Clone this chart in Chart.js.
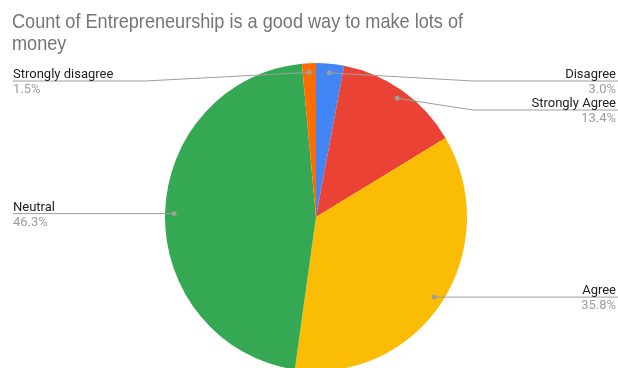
<!DOCTYPE html>
<html>
<head>
<meta charset="utf-8">
<script src="https://cdn.jsdelivr.net/npm/chart.js@4/dist/chart.umd.min.js"></script>
<style>
  html, body { margin: 0; padding: 0; background: #fff; }
  #wrap { width: 618px; height: 368px; }
</style>
</head>
<body>
<div id="wrap"><canvas id="pie" width="618" height="368"></canvas></div>
<script>
const titleLines = ['Count of Entrepreneurship is a good way to make lots of', 'money']
const categories = ['Disagree', 'Strongly Agree', 'Agree', 'Neutral', 'Strongly disagree']
const counts = [2, 9, 24, 31, 1]
const colors = ['#4285f4', '#ea4335', '#fbbc04', '#34a853', '#ff6d01']

const total = counts.reduce((a, b) => a + b, 0)
const stretchY = 1.02   // pie is drawn slightly taller than wide

// squash the pie vertically around its centre
const stretchPlugin = {
      id: 'stretch',
      beforeDatasetsDraw(chart) {
            const a = chart.chartArea
            const cx = (a.left + a.right) / 2
            const cy = (a.top + a.bottom) / 2
            chart.ctx.save()
            chart.ctx.translate(cx, cy)
            chart.ctx.scale(1, stretchY)
            chart.ctx.translate(-cx, -cy)
      },
      afterDatasetsDraw(chart) {
            chart.ctx.restore()
      }
}

// title, leader lines and side labels
const labelPlugin = {
      id: 'sideLabels',
      afterDraw(chart) {
            const ctx = chart.ctx
            const W = chart.width
            ctx.save()
            ctx.fillStyle = '#757575'
            ctx.font = '21px Arial, "Liberation Sans", sans-serif'
            ctx.textBaseline = 'alphabetic'
            ctx.textAlign = 'left'
            const tw = ctx.measureText(titleLines[0]).width
            const sx = 451 / tw
            titleLines.forEach((t, i) => {
                  ctx.save()
                  ctx.translate(12, 28 + i * 22)
                  ctx.scale(sx, 1)
                  ctx.fillText(t, 0, 0)
                  ctx.restore()
            })

            const arcs = chart.getDatasetMeta(0).data
            const items = arcs.map((arc, i) => {
                  const p = arc.getProps(['x', 'y', 'startAngle', 'endAngle', 'outerRadius'], true)
                  const mid = (p.startAngle + p.endAngle) / 2
                  const r = p.outerRadius * 0.94
                  return {
                        i: i,
                        dx: p.x + Math.cos(mid) * r,
                        dy: p.y + Math.sin(mid) * r * stretchY,
                        right: Math.cos(mid) >= 0
                  }
            })

            const place = side => {
                  const list = items.filter(it => it.right === side).sort((a, b) => a.dy - b.dy)
                  let prev = -Infinity
                  list.forEach(it => {
                        it.ly = Math.max(it.dy, prev + 29, 81)
                        prev = it.ly
                  })
            }
            place(true)
            place(false)

            items.forEach(it => {
                  const bendX = it.right ? 473 : 145
                  const endX = it.right ? W : 13
                  ctx.strokeStyle = '#9e9e9e'
                  ctx.lineWidth = 1
                  ctx.beginPath()
                  ctx.moveTo(it.dx, it.dy)
                  if (Math.abs(it.ly - it.dy) > 0.5) ctx.lineTo(bendX, it.ly)
                  ctx.lineTo(endX, it.ly)
                  ctx.stroke()

                  ctx.fillStyle = '#9e9e9e'
                  ctx.beginPath()
                  ctx.arc(it.dx, it.dy, 2.5, 0, Math.PI * 2)
                  ctx.fill()

                  const tx = it.right ? W - 2 : 13
                  ctx.textAlign = it.right ? 'right' : 'left'
                  ctx.font = '13px Roboto, Arial, sans-serif'
                  ctx.fillStyle = '#222222'
                  ctx.fillText(categories[it.i], tx, it.ly - 3)
                  ctx.fillStyle = '#9e9e9e'
                  const pct = (counts[it.i] / total * 100).toFixed(1) + '%'
                  ctx.fillText(pct, tx, it.ly + 12)
            })
            ctx.restore()
      }
}

new Chart(document.getElementById('pie'), {
      type: 'pie',
      data: {
            labels: categories,
            datasets: [{
                  data: counts,
                  backgroundColor: colors,
                  borderWidth: 0
            }]
      },
      options: {
            responsive: false,
            animation: false,
            layout: { padding: { left: 165, right: 151, top: 66, bottom: 0 } },
            plugins: {
                  legend: { display: false },
                  tooltip: { enabled: false }
            }
      },
      plugins: [stretchPlugin, labelPlugin]
})
</script>
</body>
</html>
